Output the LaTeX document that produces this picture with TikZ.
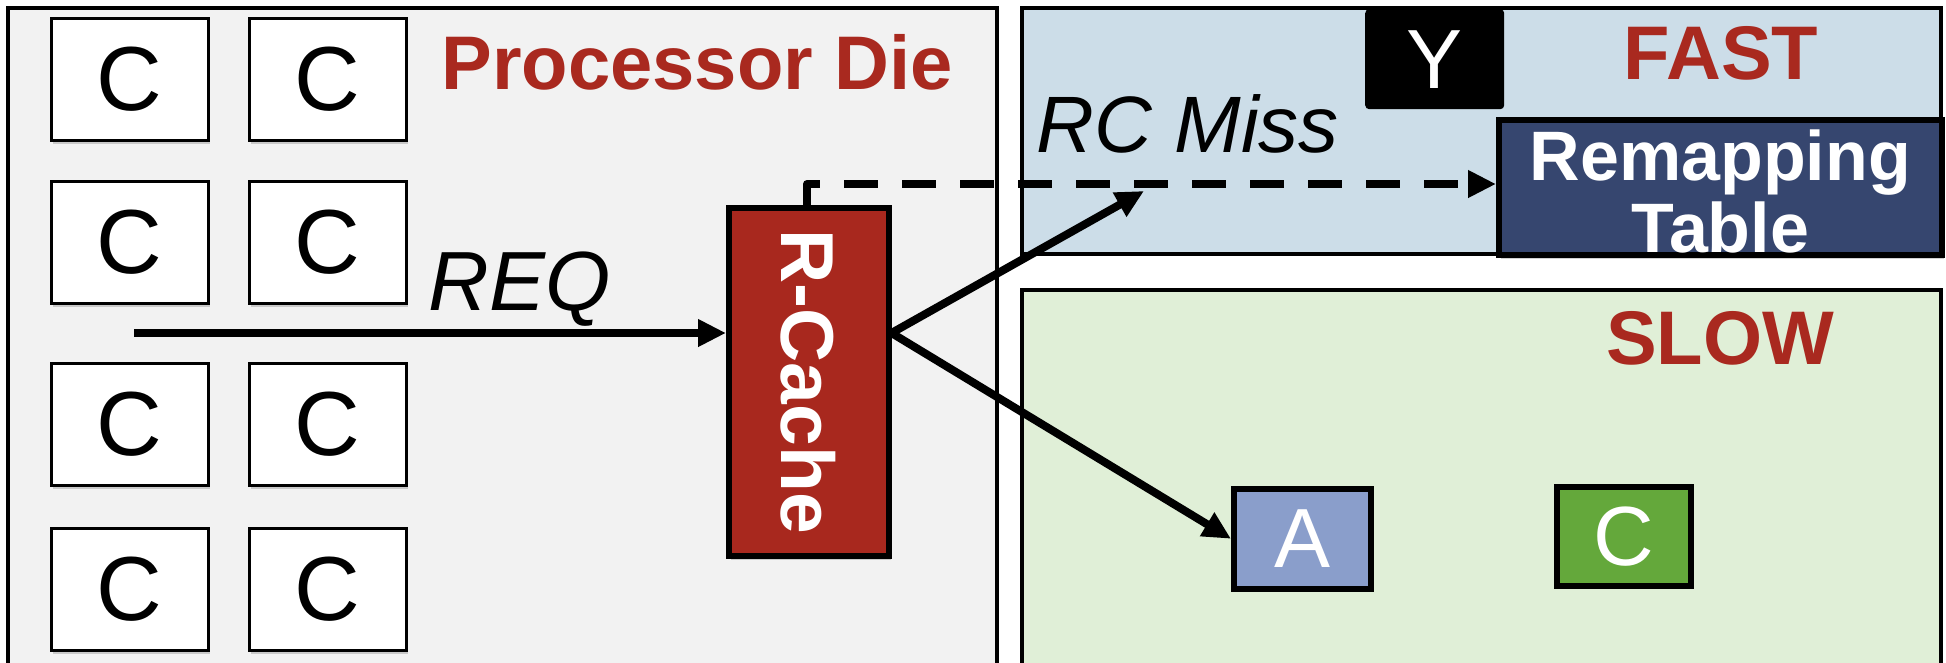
\documentclass[tikz,border=0pt]{standalone}
\usepackage{fontspec}
\setmainfont{Liberation Sans}
\usetikzlibrary{arrows.meta,shadows,calc}
\definecolor{dieBg}{HTML}{F2F2F2}
\definecolor{fastBg}{HTML}{CCDDE8}
\definecolor{slowBg}{HTML}{E0EFD7}
\definecolor{titleRed}{HTML}{A9291F}
\definecolor{rcRed}{HTML}{A8281E}
\definecolor{tableNavy}{HTML}{36466F}
\definecolor{blockBlue}{HTML}{8A9ECB}
\definecolor{blockGreen}{HTML}{64A83B}
\tikzset{
  region/.style={draw=black, line width=3.5pt, anchor=north west, inner sep=0pt},
  core/.style={draw=black, fill=white, line width=2.5pt, anchor=north west,
    minimum width=157pt, minimum height=122pt, inner sep=0pt,
    drop shadow={shadow xshift=2pt, shadow yshift=-4pt, fill=black!40, opacity=0.45},
    font=\fontsize{91}{91}\selectfont},
  title/.style={text=titleRed, font=\bfseries\fontsize{76}{76}\selectfont, inner sep=0pt},
  label/.style={font=\itshape\fontsize{80}{80}\selectfont, inner sep=0pt},
  block/.style={draw=black, line width=5.5pt, anchor=north west, inner sep=0pt,
    text=white, font=\fontsize{84}{84}\selectfont},
  tip/.style={-{Triangle[length=28pt,width=26pt]}},
  flow/.style={line width=8pt, tip},
}
\begin{document}
\begin{tikzpicture}[x=1pt,y=-1pt]
\useasboundingbox (0,0) rectangle (1946,662);
\clip (0,0) rectangle (1946,662);

% memory regions
\node[region, fill=dieBg, minimum width=989pt, minimum height=690pt] (die) at (6,6) {};
\node[region, fill=fastBg, minimum width=919pt, minimum height=246pt] (fast) at (1020,6) {};
\node[region, fill=slowBg, minimum width=919pt, minimum height=400pt] (slow) at (1020,288) {};

% cores
\node[core] (c11) at (50,17) {C};
\node[core] (c12) at (248,17) {C};
\node[core] (c21) at (50,180) {C};
\node[core] (c22) at (248,180) {C};
\node[core] (c31) at (50,362) {C};
\node[core] (c32) at (248,362) {C};
\node[core] (c41) at (50,527) {C};
\node[core] (c42) at (248,527) {C};

% region titles
\node[title] (dietitle) at (697,62) {Processor Die};
\node[title] (fasttitle) at (1721,53) {FAST};
\node[title] (slowtitle) at (1720,338) {SLOW};

% remapping cache
\node[draw=black, fill=rcRed, line width=5.5pt, anchor=north west, inner sep=0pt,
  minimum width=160pt, minimum height=348pt,
  drop shadow={shadow xshift=2pt, shadow yshift=-4pt, fill=black!40, opacity=0.45}]
  (rc) at (726,205) {};
\node[rotate=-90, text=white, font=\bfseries\fontsize{75}{75}\selectfont, inner sep=0pt]
  (rclabel) at (rc.center) {R-Cache};

% fast-memory blocks
\node[fill=black, rounded corners=4pt, anchor=north west, inner sep=0pt,
  minimum width=139pt, minimum height=100pt, text=white,
  font=\fontsize{84}{84}\selectfont] (y) at (1365,9) {Y};
\node[draw=black, fill=tableNavy, line width=5.5pt, anchor=north west, inner sep=0pt,
  minimum width=443pt, minimum height=135pt,
  drop shadow={shadow xshift=2pt, shadow yshift=-4pt, fill=black!40, opacity=0.45}]
  (remap) at (1496,117) {};
\node[text=white, align=center, font=\bfseries\fontsize{70}{72}\selectfont, inner sep=0pt]
  (remaplabel) at ($(remap.center)+(0,4)$) {Remapping\\Table};

% slow-memory blocks
\node[block, fill=blockBlue, minimum width=137pt, minimum height=100pt] (a) at (1231,486) {A};
\node[block, fill=blockGreen, minimum width=134pt, minimum height=99pt] (cg) at (1554,484) {C};

% request path
\coordinate (reqstart) at (134,333);
\coordinate (rcout) at (rc.east |- reqstart);
\coordinate (missend) at (1144,191);
\coordinate (tap) at (807,184);
\draw[flow] (reqstart) -- (reqstart -| rc.west);
\node[label, font=\itshape\fontsize{84}{84}\selectfont] (req) at (520,289) {REQ};
\draw[flow] (rcout) -- (missend);
\draw[flow] (rcout) -- (a.west);
\draw[line width=8pt, line join=round, dash pattern=on 34pt off 24pt, tip]
  (tap |- rc.north) -- (tap) -- (tap -| remap.west);
\node[label] (miss) at (1188,124) {RC Miss};
\end{tikzpicture}
\end{document}
